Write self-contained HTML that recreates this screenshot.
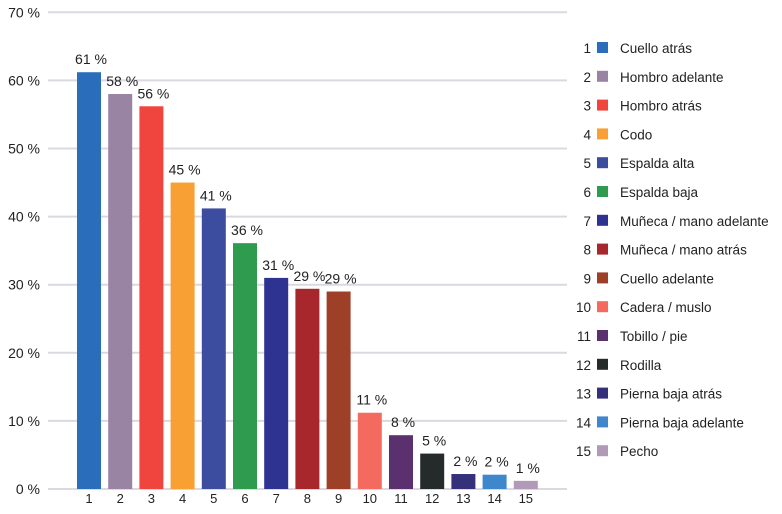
<!DOCTYPE html>
<html><head><meta charset="utf-8"><style>
body{margin:0;background:#fff;font-family:"Liberation Sans",sans-serif}
svg text{font-family:"Liberation Sans",sans-serif;fill:#222}
</style></head><body>
<svg id="c" width="782" height="509"></svg>
<script>
const categories=["Cuello atrás","Hombro adelante","Hombro atrás","Codo","Espalda alta","Espalda baja","Muñeca / mano adelante","Muñeca / mano atrás","Cuello adelante","Cadera / muslo","Tobillo / pie","Rodilla","Pierna baja atrás","Pierna baja adelante","Pecho"];
const values=[61.2,58,56.2,45,41.2,36.1,31,29.4,29,11.2,7.9,5.2,2.2,2.1,1.2];
const valueLabels=["61 %","58 %","56 %","45 %","41 %","36 %","31 %","29 %","29 %","11 %","8 %","5 %","2 %","2 %","1 %"];
const colors=["#2a6ebb","#9a84a3","#f0453f","#f9a035","#3c4c9e","#2e9b4f","#2e3290","#a8272d","#9e3f28","#f56a5e","#5a306e","#252b2b","#35307a","#3f87cc","#b09ab8"];
const yTicks=[0,10,20,30,40,50,60,70];
const NS="http://www.w3.org/2000/svg",svg=document.getElementById('c');
const y=v=>489-v*6.81, x=i=>77+i*31.2, bw=24;
function mk(t,a,txt){const e=document.createElementNS(NS,t);for(const k in a)e.setAttribute(k,a[k]);if(txt!=null)e.textContent=txt;svg.appendChild(e);return e;}
yTicks.forEach(t=>{
 const l=mk('line',{x1:48,x2:567,y1:y(t),y2:y(t),stroke:'#dcd8e0','stroke-width':2});
 
 
 const tx=mk('text',{x:40,y:y(t)+5,'text-anchor':'end','font-size':14},t+' %');
 
 
});
values.forEach((v,i)=>{
 const r=mk('rect',{x:x(i),y:y(v),width:bw,height:y(0)-y(v),fill:colors[i]});
 
 
 const lb=mk('text',{x:x(i)+bw/2+2,y:y(v)-8,'text-anchor':'middle','font-size':14},valueLabels[i]);
 
 
 const xt=mk('text',{x:x(i)+bw/2,y:503,'text-anchor':'middle','font-size':13},String(i+1));
 
 
 const ly=48+i*28.8;
 const n=mk('text',{x:591,y:ly+5,'text-anchor':'end','font-size':13.5},String(i+1));
 
 
 const s=mk('rect',{x:597,y:ly-6,width:11,height:11,fill:colors[i]});
 
 
 const lt=mk('text',{x:620,y:ly+5,'font-size':13.5},categories[i]);
 
 
});
</script>
</body></html>
